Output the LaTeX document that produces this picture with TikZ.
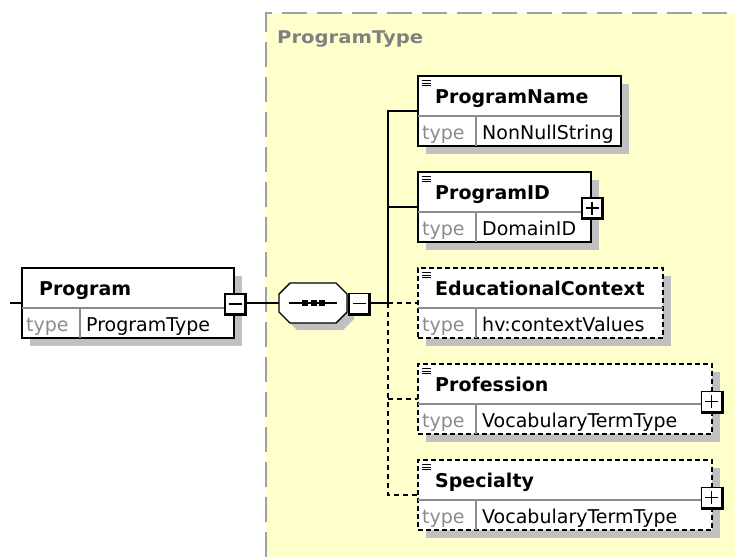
\documentclass[tikz,border=0pt]{standalone}
\usepackage{fontspec}
\setmainfont{DejaVu Sans}
\usetikzlibrary{calc}
\definecolor{bgyellow}{HTML}{FFFFCC}
\definecolor{shadowgray}{HTML}{C0C0C0}
\definecolor{framegray}{HTML}{A0A0A0}
\definecolor{typegray}{HTML}{8C8C8C}
\definecolor{divgray}{HTML}{8C8C8C}
\definecolor{titlegray}{HTML}{808080}
\tikzset{
  boxsolid/.style={draw=black, line width=1.4pt, fill=white, inner sep=0pt, outer sep=0pt},
  boxdash/.style={boxsolid, dash pattern=on 5pt off 3pt},
  divline/.style={draw=divgray, line width=1.2pt},
  namefont/.style={font=\fontsize{19}{22}\selectfont\bfseries, inner sep=0pt, anchor=base west},
  typefont/.style={font=\fontsize{19}{22}\selectfont, inner sep=0pt, anchor=base west},
  conn/.style={draw=black, line width=1.4pt},
  dconn/.style={conn, dash pattern=on 5pt off 4pt},
  frameline/.style={draw=framegray, line width=1.5pt, dash pattern=on 25pt off 10pt},
  pmnode/.style={draw=black, line width=1.3pt, fill=white, minimum size=20pt, inner sep=0pt, outer sep=0pt},
}
% name, x, y(top), width, label, type, style
\newcommand\elembox[7]{%
  \fill[shadowgray] ({#2+8},{#3+8}) rectangle ++(#4,70);
  \node[#7, anchor=north west, minimum width=#4, minimum height=70] (#1) at (#2,#3) {};
  \draw[divline] ({#2},{#3+40}) -- ({#2+#4},{#3+40});
  \draw[divline] ({#2+58},{#3+40}) -- ({#2+58},{#3+70});
  \node[namefont] (#1-name) at ({#2+17},{#3+27}) {#5};
  \node[typefont, text=typegray] (#1-tl) at ({#2+4},{#3+63}) {type};
  \node[typefont] (#1-type) at ({#2+64},{#3+63}) {#6};
}
\newcommand\docicon[2]{%
  \draw[line width=1pt] ({#1+4},{#2+4.5}) -- ++(9,0);
  \draw[line width=1pt] ({#1+4},{#2+7}) -- ++(9,0);
  \draw[line width=1pt] ({#1+4},{#2+9.5}) -- ++(9,0);
}
\newcommand\pmminus[3]{%
  \fill[black] ({#2-10.6},{#3-10.6}) rectangle ({#2+12.4},{#3+12.4});
  \node[pmnode] (#1) at (#2,#3) {};
  \draw[line width=1.2pt] ({#2-6.5},{#3}) -- ({#2+6.5},{#3});
}
\newcommand\pmplus[3]{%
  \fill[black] ({#2-10.6},{#3-10.6}) rectangle ({#2+12.4},{#3+12.4});
  \node[pmnode] (#1) at (#2,#3) {};
  \draw[line width=1.2pt] ({#2-6.5},{#3}) -- ({#2+6.5},{#3});
  \draw[line width=1.2pt] ({#2},{#3-6.5}) -- ({#2},{#3+6.5});
}
\begin{document}
\begin{tikzpicture}[x=1pt, y=-1pt]
\useasboundingbox (0,0) rectangle (735,557);
\fill[white] (0,0) rectangle (735,557);
% complex type region
\fill[bgyellow] (266,13) rectangle (735,557);
\draw[frameline] (266,557) -- (266,13) -- (735,13);
\node[anchor=base west, inner sep=0pt, text=titlegray, font=\fontsize{17.5}{20}\selectfont\bfseries] (title) at (277,43) {\scalebox{1.12}[1]{ProgramType}};

% Program element
\elembox{prog}{22}{268}{212}{Program}{ProgramType}{boxsolid}
\pmminus{progpm}{235}{304}

% sequence compositor
\fill[shadowgray, shift={(7,7)}] (290,283) -- (336,283) -- (347,294) -- (347,312) -- (336,323) -- (290,323) -- (279,312) -- (279,294) -- cycle;
\draw[line width=1.4pt, fill=white] (290,283) -- (336,283) -- (347,294) -- (347,312) -- (336,323) -- (290,323) -- (279,312) -- (279,294) -- cycle;
\node[minimum width=68, minimum height=40, inner sep=0pt, outer sep=0pt] (seq) at (313,303) {};
\draw[line width=1.3pt] (289,303) -- (337,303);
\fill[black] (302,300) rectangle (308,306);
\fill[black] (310.5,300) rectangle (316.5,306);
\fill[black] (319,300) rectangle (325,306);
\pmminus{seqpm}{359}{303.5}

% children
\elembox{pname}{418}{76}{203}{ProgramName}{NonNullString}{boxsolid}
\docicon{418}{76}
\elembox{pid}{418}{172}{173}{ProgramID}{DomainID}{boxsolid}
\docicon{418}{172}
\pmplus{pidpm}{592}{208}
\elembox{ec}{418}{268}{245}{EducationalContext}{hv:contextValues}{boxdash}
\docicon{418}{268}
\elembox{prof}{418}{364}{294}{Profession}{VocabularyTermType}{boxdash}
\docicon{418}{364}
\pmplus{profpm}{711.5}{401.5}
\elembox{spec}{418}{460}{294}{Specialty}{VocabularyTermType}{boxdash}
\docicon{418}{460}
\pmplus{specpm}{711.5}{497.5}

% connectors
\coordinate (lin) at (10,303);
\coordinate (jn) at (388,303);
\draw[conn] (lin) -- (prog.west);
\draw[conn] (progpm.east |- seq.west) -- (seq.west);
\draw[conn] (seqpm.east |- jn) -- (jn);
\draw[conn] (jn) -- (jn |- pname.west) -- (pname.west);
\draw[conn] (jn |- pid.west) -- (pid.west);
\draw[dconn] (jn) -- (ec.west);
\draw[dconn] (jn) -- (jn |- spec.west) -- (spec.west);
\draw[dconn] (jn |- prof.west) -- (prof.west);
\end{tikzpicture}
\end{document}
